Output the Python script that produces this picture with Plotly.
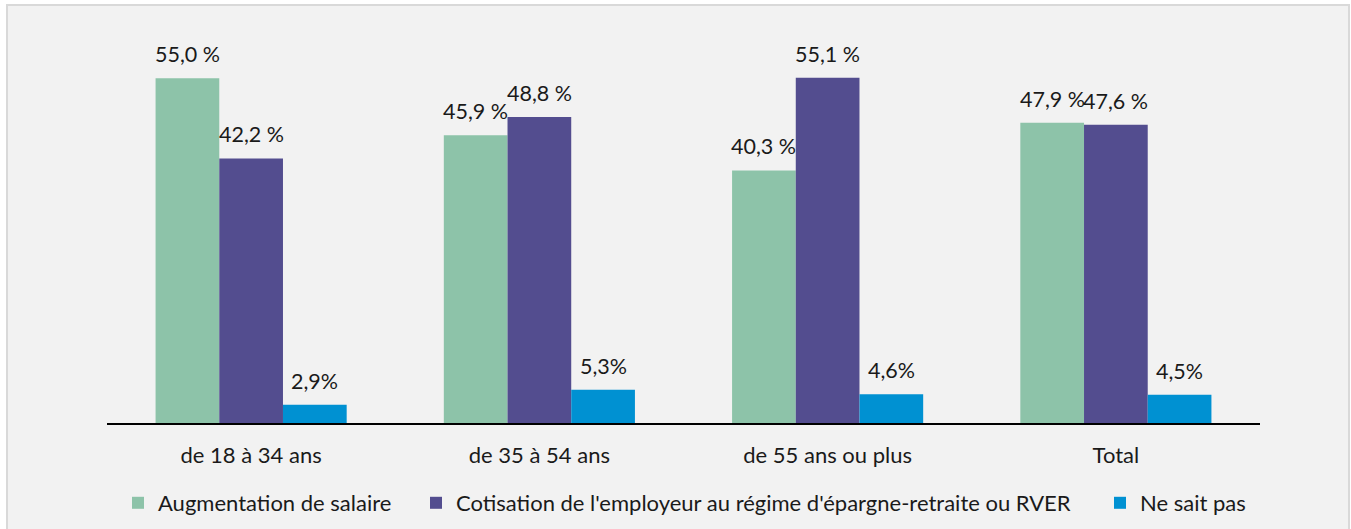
import plotly.graph_objects as go

categories = ["de 18 à 34 ans", "de 35 à 54 ans", "de 55 ans ou plus", "Total"]
series_names = [
    "Augmentation de salaire",
    "Cotisation de l'employeur au régime d'épargne-retraite ou RVER",
    "Ne sait pas",
]
salaire = [55.0, 45.9, 40.3, 47.9]
cotisation = [42.2, 48.8, 55.1, 47.6]
ne_sait_pas = [2.9, 5.3, 4.6, 4.5]
colors = ["#8DC3A9", "#534D8F", "#0091D2"]
label_fmt = ["{:.1f} %", "{:.1f} %", "{:.1f}%"]
legend_left_px = [132, 430, 1114]

W, H = 1351, 529
L, R, T, B = 107, 91, 30, 106
pw, ph = W - L - R, H - T - B
YMAX = 62.7
FONT = "Lato"


def px_x(p):
    return (p - L) / pw


def px_y(p):
    return (H - B - p) / ph


fig = go.Figure()
all_series = [salaire, cotisation, ne_sait_pas]
legend_ids = ["legend", "legend2", "legend3"]
for name, vals, col, lid in zip(series_names, all_series, colors, legend_ids):
    fig.add_trace(go.Bar(
        x=categories, y=vals, name=name,
        marker=dict(color=col, line=dict(width=0)),
        offsetgroup=name, legend=lid,
    ))

n = len(all_series)
group_w = 1 - 0.337
bw = group_w / n
annotations = []
for si, (vals, fmt) in enumerate(zip(all_series, label_fmt)):
    for ci, v in enumerate(vals):
        xoff = -group_w / 2 + bw * (si + 0.5)
        annotations.append(dict(
            x=ci + xoff, y=v, xref="x", yref="y",
            text=fmt.format(v).replace(".", ","),
            showarrow=False, yanchor="bottom", yshift=9,
            font=dict(family=FONT, size=21.5, color="#1a1a1a"),
        ))

fig.add_shape(type="rect", xref="paper", yref="paper",
              x0=px_x(7), x1=px_x(1349), y0=px_y(540), y1=px_y(5),
              fillcolor="#F2F2F2", line=dict(color="#D9D9D9", width=2),
              layer="below")

legend_common = dict(orientation="h", yanchor="middle", xanchor="left",
                     xref="container", yref="container",
                     font=dict(family=FONT, size=22, color="#1a1a1a"),
                     itemwidth=30, bgcolor="rgba(0,0,0,0)")
layout_legends = {}
for lid, lx in zip(legend_ids, legend_left_px):
    layout_legends[lid] = dict(legend_common, x=(lx - 14) / W, y=(H - 503) / H)

fig.update_layout(
    width=W, height=H,
    margin=dict(l=L, r=R, t=T, b=B, autoexpand=False),
    paper_bgcolor="white", plot_bgcolor="rgba(0,0,0,0)",
    barmode="group", bargap=0.337, bargroupgap=0,
    font=dict(family=FONT, size=22, color="#1a1a1a"),
    annotations=annotations,
    showlegend=True,
    **layout_legends,
    xaxis=dict(type="category", showline=True, linecolor="#000000", linewidth=2,
               ticks="", showgrid=False, tickfont=dict(family=FONT, size=22),
               ticklabelstandoff=12, range=[-0.5, 3.5], fixedrange=True,
               automargin=False),
    yaxis=dict(range=[0, YMAX], visible=False, showgrid=False, zeroline=False,
               automargin=False),
)

fig.write_html("out.html", config={"displayModeBar": False},
               post_script="document.body.style.margin='0';document.body.style.overflow='hidden';")
